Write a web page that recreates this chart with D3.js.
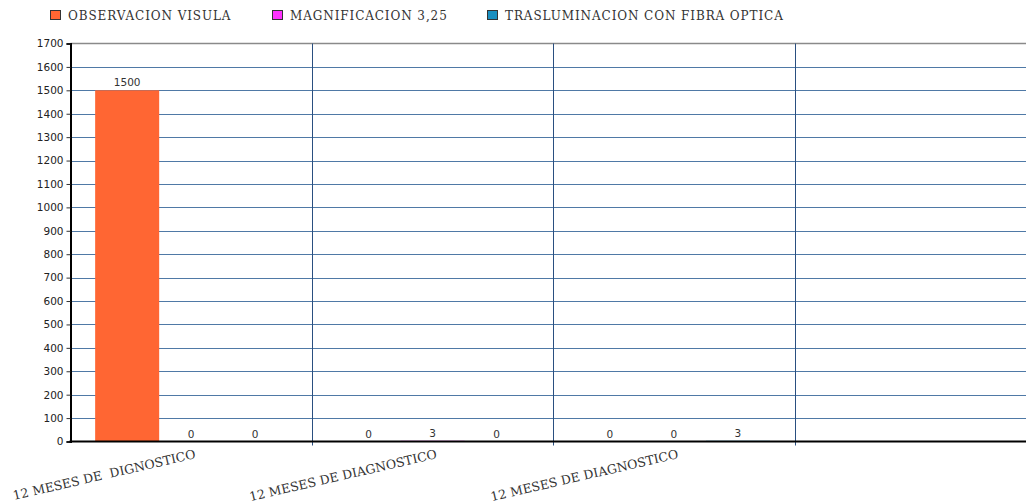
<!DOCTYPE html>
<html><head><meta charset="utf-8">
<script src="https://cdn.jsdelivr.net/npm/d3@7"></script>
<style>body{margin:0;background:#fff}</style>
</head><body>
<svg id="c" width="1026" height="504"></svg>
<script>
const categories = ["12 MESES DE  DIGNOSTICO", "12 MESES DE DIAGNOSTICO", "12 MESES DE DIAGNOSTICO", ""];
const seriesNames = ["OBSERVACION VISULA", "MAGNIFICACION 3,25", "TRASLUMINACION CON FIBRA OPTICA"];
const observacion = [1500, 0, 0];
const magnificacion = [0, 3, 0];
const trasluminacion = [0, 0, 3];
const yTicks = [0,100,200,300,400,500,600,700,800,900,1000,1100,1200,1300,1400,1500,1600,1700];
const colors = ["#ff6633", "#ff33ff", "#1a8fc0"];

const svg = d3.select("#c");
const L = 70.5, R = 1036, T = 43.5, B = 441.5;
const x = d3.scaleBand().domain(d3.range(categories.length)).range([L, R]);
const xs = d3.scaleBand().domain(d3.range(3)).range([0, x.bandwidth()]).paddingOuter(0.385).paddingInner(0);
const y = d3.scaleLinear().domain([0, 1700]).range([B, T]);

// horizontal gridlines
svg.append("g").selectAll("line").data(yTicks.filter(d => d > 0 && d < 1700)).join("line")
  .attr("x1", L).attr("x2", 1026).attr("y1", d => Math.round(y(d)) + 0.5).attr("y2", d => Math.round(y(d)) + 0.5)
  .attr("stroke", "#4f79a6").attr("stroke-width", 1);
// top border
svg.append("line").attr("x1", L).attr("x2", 1026).attr("y1", T).attr("y2", T).attr("stroke", "#8a8a8a").attr("stroke-width", 1.5);
// vertical category lines
svg.append("g").selectAll("line").data(d3.range(1, categories.length)).join("line")
  .attr("x1", d => Math.round(x(d)) + 0.5).attr("x2", d => Math.round(x(d)) + 0.5)
  .attr("y1", T).attr("y2", B + 4).attr("stroke", "#2a4f80").attr("stroke-width", 1);

const series = [observacion, magnificacion, trasluminacion];
const flat = [];
series.forEach((vals, si) => vals.forEach((v, ci) => flat.push({si, ci, v})));

svg.append("g").selectAll("rect").data(flat).join("rect")
  .attr("x", d => x(d.ci) + xs(d.si)).attr("width", xs.bandwidth())
  .attr("y", d => y(d.v)).attr("height", d => B - y(d.v))
  .attr("fill", d => colors[d.si]);

svg.append("g").selectAll("text").data(flat).join("text")
  .attr("x", d => x(d.ci) + xs(d.si) + xs.bandwidth() / 2)
  .attr("y", d => y(d.v) - 4)
  .attr("text-anchor", "middle")
  .attr("font-family", "DejaVu Sans").attr("font-size", 10.5).attr("fill", "#333")
  .text(d => d.v);

// axes
const yAxis = svg.append("g").attr("transform", `translate(${L},0)`)
  .call(d3.axisLeft(y).tickValues(yTicks).tickSize(4).tickFormat(d3.format("d")));
yAxis.select(".domain").attr("stroke", "#000").attr("stroke-width", 2);
yAxis.selectAll(".tick line").attr("stroke", "#333");
yAxis.selectAll("text").attr("font-family", "DejaVu Sans").attr("font-size", 10.5).attr("fill", "#222");

svg.append("line").attr("x1", L - 1).attr("x2", 1026).attr("y1", B).attr("y2", B).attr("stroke", "#000").attr("stroke-width", 2);

// x labels
svg.append("g").selectAll("text").data(categories.slice(0, 3)).join("text")
  .attr("transform", (d, i) => `translate(${x(i) + x.bandwidth() / 2 + 3},${B + 8}) rotate(-13)`)
  .attr("text-anchor", "end").attr("dy", "0.7em")
  .attr("font-family", "DejaVu Serif").attr("font-size", 12.5).attr("fill", "#333")
  .style("white-space", "pre")
  .text(d => d);

// legend
const legX = [50, 272, 487];
const leg = svg.append("g").selectAll("g").data(seriesNames).join("g")
  .attr("transform", (d, i) => `translate(${legX[i]},10)`);
leg.append("rect").attr("x", 0.5).attr("y", 0.5).attr("width", 10).attr("height", 9)
  .attr("fill", (d, i) => colors[i]).attr("stroke", "#333").attr("stroke-width", 1);
leg.append("text").attr("x", 18).attr("y", 9.5)
  .attr("font-family", "DejaVu Serif").attr("font-size", 12).attr("fill", "#333")
  .attr("letter-spacing", 0.9)
  .text(d => d);
</script>
</body></html>
